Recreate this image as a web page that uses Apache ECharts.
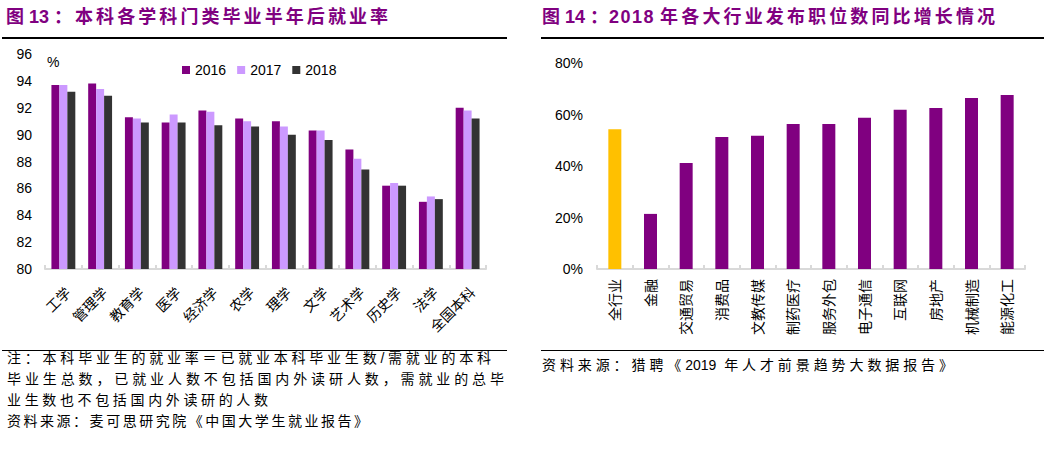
<!DOCTYPE html>
<html>
<head>
<meta charset="utf-8">
<script src="https://cdn.jsdelivr.net/npm/echarts@6/dist/echarts.min.js"></script>
<style>
  html, body { margin:0; padding:0; background:#fff; }
  #wrap { position:relative; width:1054px; height:463px; overflow:hidden; }
  #chart { position:absolute; left:0; top:0; width:1054px; height:463px; }
  .title { position:absolute; top:6px; height:22px; line-height:22px; font-size:18px; font-weight:bold; color:#800080;
           font-family:"Liberation Sans", Arial, "Noto Sans CJK SC", sans-serif; white-space:nowrap; }
  .jf { display:inline-block; text-align:justify; text-align-last:justify; white-space:nowrap; }
  .rule { position:absolute; background:#000; }
  .note { position:absolute; font-size:14px; line-height:21px; color:#000; white-space:nowrap;
          text-align:justify; text-align-last:justify;
          font-family:"Liberation Sans", Arial, "Noto Sans CJK SC", sans-serif; }
</style>
</head>
<body>
<div id="wrap">
  <div id="chart"></div>

  <div class="title" style="left:6px"><span>图</span> <span>13</span><span style="margin-left:5px;margin-right:3px">：</span><span class="jf" style="width:313px">本科各学科门类毕业半年后就业率</span></div>
  <div class="title" style="left:542px"><span>图</span> <span>14</span><span style="margin-left:5px;margin-right:1px">：</span><span style="letter-spacing:1.5px">2018</span> <span class="jf" style="width:335px">年各大行业发布职位数同比增长情况</span></div>

  <div class="rule" style="left:2px;top:37px;width:505px;height:1.5px"></div>
  <div class="rule" style="left:541px;top:37px;width:503px;height:1.5px"></div>
  <div class="rule" style="left:2px;top:349.5px;width:505px;height:1.2px"></div>
  <div class="rule" style="left:541px;top:349.5px;width:503px;height:1.2px"></div>

  <div class="note" style="left:7px;top:347.5px;width:484px">注：本科毕业生的就业率＝已就业本科毕业生数/需就业的本科</div>
  <div class="note" style="left:7px;top:368.5px;width:497px">毕业生总数，已就业人数不包括国内外读研人数，需就业的总毕</div>
  <div class="note" style="left:7px;top:389.5px;width:261px">业生数也不包括国内外读研的人数</div>
  <div class="note" style="left:7px;top:410.5px;width:361px">资料来源：麦可思研究院《中国大学生就业报告》</div>
  <div class="note" style="left:542px;top:354.5px;width:411px">资料来源：猎聘《2019 年人才前景趋势大数据报告》</div>
</div>
<script>
// ---- Figure 13 data ----
const subjects = ['工学','管理学','教育学','医学','经济学','农学','理学','文学','艺术学','历史学','法学','全国本科'];
const seriesNames = ['2016','2017','2018'];
const rate2016 = [93.7, 93.8, 91.3, 90.9, 91.8, 91.2, 91.0, 90.3, 88.9, 86.2, 85.0, 92.0];
const rate2017 = [93.7, 93.4, 91.2, 91.5, 91.7, 91.0, 90.6, 90.3, 88.2, 86.4, 85.4, 91.8];
const rate2018 = [93.2, 92.9, 90.9, 90.9, 90.7, 90.6, 90.0, 89.6, 87.4, 86.2, 85.2, 91.2];
const leftYMin = 80, leftYMax = 96, leftYStep = 2;
const leftUnit = '%';

// ---- Figure 14 data ----
const industries = ['全行业','金融','交通贸易','消费品','文教传媒','制药医疗','服务外包','电子通信','互联网','房地产','机械制造','能源化工'];
const growth = [54.3, 21.4, 41.2, 51.3, 51.7, 56.3, 56.3, 58.7, 61.8, 62.5, 66.4, 67.6];
const highlightIndustry = '全行业';
const rightYMin = 0, rightYMax = 80, rightYStep = 20;

const FONT = '"Liberation Sans", Arial, "Noto Sans CJK SC", sans-serif';
const axisGray = '#D9D9D9';
const colors = ['#800080', '#CC99FF', '#333333'];

const chart = echarts.init(document.getElementById('chart'), null, { renderer: 'svg' });

const catAxisCommon = {
  type: 'category',
  axisLine: { show: true, lineStyle: { color: axisGray, width: 2 } },
  axisTick: { show: true, inside: true, length: 4, lineStyle: { color: axisGray, width: 2 } },
  splitLine: { show: false }
};
const valAxisCommon = {
  type: 'value',
  axisLine: { show: false },
  axisTick: { show: false },
  splitLine: { show: false }
};

chart.setOption({
  animation: false,
  textStyle: { fontFamily: FONT },
  grid: [
    { left: 45, top: 54, width: 441, height: 215 },
    { left: 597, top: 63, width: 428, height: 206 }
  ],
  legend: {
    data: seriesNames,
    left: 177, top: 58,
    itemWidth: 8, itemHeight: 8, itemGap: 11,
    icon: 'rect',
    textStyle: { fontSize: 14, color: '#000', fontFamily: FONT }
  },
  graphic: [
    { type: 'text', left: 47, top: 55, style: { text: leftUnit, fontSize: 14, fill: '#000', font: '14px ' + FONT } }
  ],
  xAxis: [
    Object.assign({}, catAxisCommon, {
      gridIndex: 0, data: subjects,
      axisLabel: { interval: 0, rotate: 45, align: 'right', verticalAlign: 'top', margin: 16, fontSize: 14, color: '#000', fontFamily: FONT }
    }),
    Object.assign({}, catAxisCommon, {
      gridIndex: 1, data: industries,
      axisLabel: { interval: 0, rotate: 90, margin: 10, fontSize: 14, color: '#000', fontFamily: FONT }
    })
  ],
  yAxis: [
    Object.assign({}, valAxisCommon, {
      gridIndex: 0, min: leftYMin, max: leftYMax, interval: leftYStep,
      axisLabel: { margin: 13, fontSize: 14, color: '#000', fontFamily: FONT }
    }),
    Object.assign({}, valAxisCommon, {
      gridIndex: 1, min: rightYMin, max: rightYMax, interval: rightYStep,
      axisLabel: { margin: 14, fontSize: 14, color: '#000', fontFamily: FONT, formatter: '{value}%' }
    })
  ],
  series: [
    { name: seriesNames[0], type: 'bar', xAxisIndex: 0, yAxisIndex: 0, data: rate2016, itemStyle: { color: colors[0] }, barGap: '0%', barCategoryGap: '35%' },
    { name: seriesNames[1], type: 'bar', xAxisIndex: 0, yAxisIndex: 0, data: rate2017, itemStyle: { color: colors[1] }, barGap: '0%', barCategoryGap: '35%' },
    { name: seriesNames[2], type: 'bar', xAxisIndex: 0, yAxisIndex: 0, data: rate2018, itemStyle: { color: colors[2] }, barGap: '0%', barCategoryGap: '35%' },
    {
      type: 'bar', xAxisIndex: 1, yAxisIndex: 1, data: growth, barWidth: 13,
      itemStyle: { color: function (p) { return industries[p.dataIndex] === highlightIndustry ? '#FFC000' : '#800080'; } }
    }
  ]
});
</script>
</body>
</html>
